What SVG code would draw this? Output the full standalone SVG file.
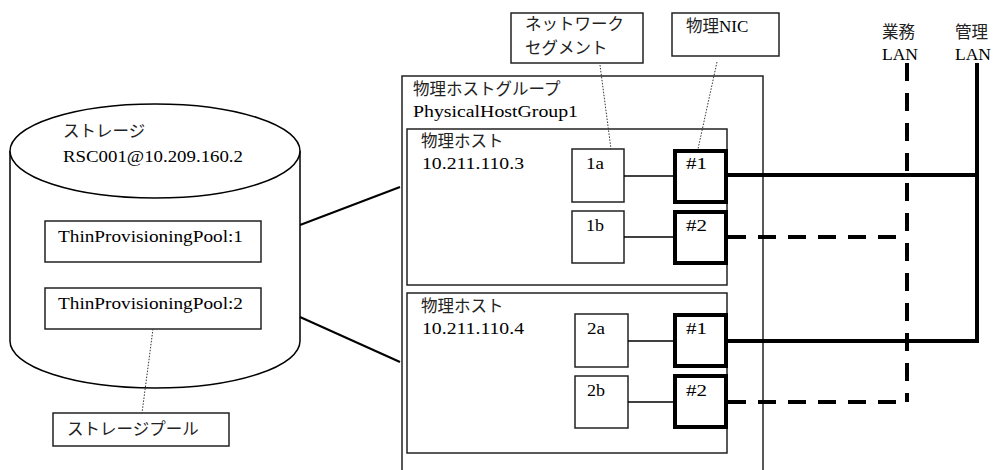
<svg xmlns="http://www.w3.org/2000/svg" width="993" height="470" viewBox="0 0 993 470">
<style>
text{font-family:"Liberation Serif","DejaVu Serif","Noto Sans CJK JP",serif;font-size:17px;fill:#000}
.jp{font-family:"Noto Sans CJK JP","Liberation Serif",sans-serif;font-size:16.5px;fill:#222}
.box{fill:#fff;stroke:#222;stroke-width:1.5}
.nic{fill:#fff;stroke:#000;stroke-width:4}
.thin{stroke:#000;stroke-width:1.3;fill:none}
.link{stroke:#000;stroke-width:2;fill:none}
.dot{stroke:#333;stroke-width:1;stroke-dasharray:1.5 1.5;fill:none}
.lan{stroke:#000;stroke-width:4;fill:none}
.lanD{stroke:#000;stroke-width:4;fill:none;stroke-dasharray:18 12}
</style>
<rect width="993" height="470" fill="#fff"/>
<g id="storage">
<path d="M10,151 L10,341 A145,47 0 0 0 300,341 L300,151" fill="#fff" stroke="#000" stroke-width="1.5"/>
<ellipse cx="155" cy="151" rx="145" ry="47" fill="#fff" stroke="#000" stroke-width="1.5"/>
<text class="jp" x="63" y="137">ストレージ</text>
<text x="63" y="162" textLength="180" lengthAdjust="spacingAndGlyphs">RSC001@10.209.160.2</text>
</g>
<g id="pool1">
<rect class="box" x="45" y="221" width="216" height="41"/>
<text x="58" y="242" textLength="185" lengthAdjust="spacingAndGlyphs">ThinProvisioningPool:1</text>
</g>
<g id="pool2">
<rect class="box" x="45" y="288" width="216" height="41"/>
<text x="58" y="309" textLength="185" lengthAdjust="spacingAndGlyphs">ThinProvisioningPool:2</text>
</g>
<g id="storagepool-label">
<rect class="box" x="53" y="413" width="176" height="33"/>
<text class="jp" x="67" y="435">ストレージプール</text>
</g>
<g id="group">
<rect class="box" x="402" y="76" width="361" height="410"/>
<text class="jp" x="413" y="95">物理ホストグループ</text>
<text x="413" y="117" textLength="165" lengthAdjust="spacingAndGlyphs">PhysicalHostGroup1</text>
</g>
<g id="host1">
<rect class="box" x="407" y="129" width="320" height="156"/>
<text class="jp" x="421" y="147">物理ホスト</text>
<text x="422" y="169" textLength="102" lengthAdjust="spacingAndGlyphs">10.211.110.3</text>
</g>
<g id="host2">
<rect class="box" x="407" y="293" width="320" height="160"/>
<text class="jp" x="421" y="312">物理ホスト</text>
<text x="422" y="334" textLength="102" lengthAdjust="spacingAndGlyphs">10.211.110.4</text>
</g>
<g id="seg1a"><rect class="box" x="572" y="149" width="52" height="53"/><text x="586" y="169" textLength="18" lengthAdjust="spacingAndGlyphs">1a</text></g>
<g id="seg1b"><rect class="box" x="572" y="211" width="52" height="52"/><text x="586" y="231" textLength="18" lengthAdjust="spacingAndGlyphs">1b</text></g>
<g id="seg2a"><rect class="box" x="575" y="314" width="53" height="53"/><text x="587" y="334" textLength="18" lengthAdjust="spacingAndGlyphs">2a</text></g>
<g id="seg2b"><rect class="box" x="575" y="376" width="53" height="52"/><text x="587" y="396" textLength="18" lengthAdjust="spacingAndGlyphs">2b</text></g>
<g id="nic1-1"><rect class="nic" x="675" y="151" width="51" height="51"/><text x="686" y="169" textLength="21" lengthAdjust="spacingAndGlyphs">#1</text></g>
<g id="nic1-2"><rect class="nic" x="675" y="212" width="51" height="51"/><text x="686" y="231" textLength="21" lengthAdjust="spacingAndGlyphs">#2</text></g>
<g id="nic2-1"><rect class="nic" x="675" y="315" width="51" height="51"/><text x="686" y="334" textLength="21" lengthAdjust="spacingAndGlyphs">#1</text></g>
<g id="nic2-2"><rect class="nic" x="675" y="376" width="51" height="51"/><text x="686" y="396" textLength="21" lengthAdjust="spacingAndGlyphs">#2</text></g>
<g id="label-segment">
<rect class="box" x="511" y="13" width="132" height="50"/>
<text class="jp" x="525" y="30">ネットワーク</text>
<text class="jp" x="525" y="54">セグメント</text>
</g>
<g id="label-nic">
<rect class="box" x="672" y="13" width="107" height="43"/>
<text x="686" y="32"><tspan class="jp">物理</tspan>NIC</text>
</g>
<g id="lan-business">
<text class="jp" x="882" y="38">業務</text>
<text x="882" y="60" textLength="36" lengthAdjust="spacingAndGlyphs">LAN</text>
</g>
<g id="lan-management">
<text class="jp" x="955" y="38">管理</text>
<text x="955" y="60" textLength="36" lengthAdjust="spacingAndGlyphs">LAN</text>
</g>
<g id="connectors">
<line class="link" x1="300" y1="225" x2="400" y2="187"/>
<line class="link" x1="300" y1="317" x2="400" y2="362"/>
<line class="thin" x1="624" y1="176" x2="673" y2="176"/>
<line class="thin" x1="624" y1="237" x2="673" y2="237"/>
<line class="thin" x1="628" y1="341" x2="673" y2="341"/>
<line class="thin" x1="628" y1="402" x2="673" y2="402"/>
<line class="dot" x1="153" y1="329" x2="142" y2="413"/>
<line class="dot" x1="600" y1="65" x2="611" y2="149"/>
<line class="dot" x1="717" y1="62" x2="698" y2="149"/>
<line class="lanD" x1="907" y1="63" x2="907" y2="402"/>
<polyline class="lan" points="977,63 977,341 728,341"/>
<line class="lan" x1="728" y1="175" x2="977" y2="175"/>
<line class="lanD" x1="728" y1="237" x2="907" y2="237"/>
<line class="lanD" x1="728" y1="402" x2="907" y2="402"/>
</g>
</svg>
